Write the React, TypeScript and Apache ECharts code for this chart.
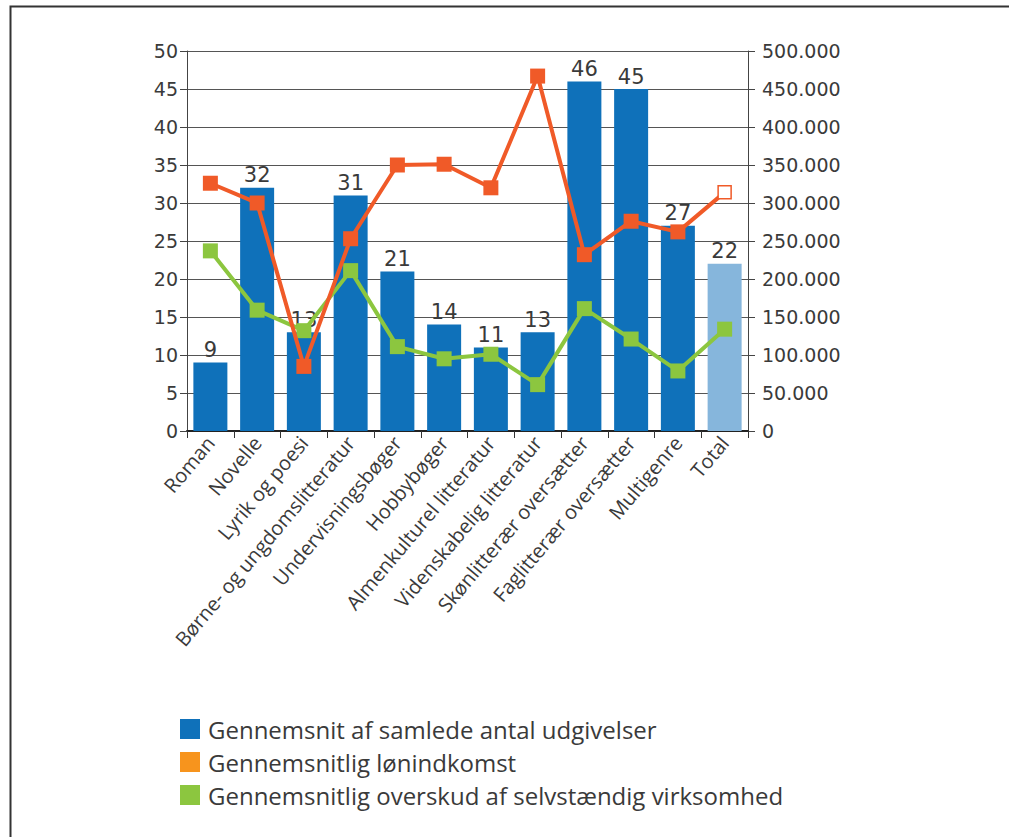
import React, { useEffect, useRef } from "react";
import * as echarts from "echarts";

const categories = [
  "Roman",
  "Novelle",
  "Lyrik og poesi",
  "Børne- og ungdomslitteratur",
  "Undervisningsbøger",
  "Hobbybøger",
  "Almenkulturel litteratur",
  "Videnskabelig litteratur",
  "Skønlitterær oversætter",
  "Faglitterær oversætter",
  "Multigenre",
  "Total",
];
const udgivelser = [9, 32, 13, 31, 21, 14, 11, 13, 46, 45, 27, 22];
const loenindkomst = [326000, 300000, 85000, 253000, 350000, 351000, 320000, 467000, 232000, 276000, 262000, 314000];
const overskud = [237000, 159000, 132000, 211000, 111000, 95000, 101000, 61000, 161000, 121000, 79000, 134000];
const leftTicks = [0, 50, 5];
const rightTicks = [0, 500000, 50000];

const seriesNames = [
  "Gennemsnit af samlede antal udgivelser",
  "Gennemsnitlig lønindkomst",
  "Gennemsnitlig overskud af selvstændig virksomhed",
];

const BLUE = "#0f71ba";
const LIGHTBLUE = "#86b6dc";
const ORANGE_LINE = "#f05a28";
const ORANGE_LEGEND = "#f7941d";
const GREEN = "#8cc63f";
const FONT = "Open Sans";
const NUMFONT = "DejaVu Sans";
const TEXT = "#3a3a3a";

function fmt(v: number) {
  return String(v).replace(/\B(?=(\d{3})+(?!\d))/g, ".");
}

export default function App() {
  const ref = useRef<HTMLDivElement>(null);
  useEffect(() => {
    const chart = echarts.init(ref.current!, null, { renderer: "svg" });
    const last = categories.length - 1;
    chart.setOption({
      animation: false,
      backgroundColor: "#fff",
      textStyle: { fontFamily: FONT },
      graphic: [
        {
          type: "rect",
          shape: { x: 10.5, y: 6.5, width: 1100, height: 1000 },
          style: { fill: "none", stroke: "#333", lineWidth: 2 },
          silent: true,
        },
      ],
      grid: { left: 187, right: 261, top: 51, bottom: 406 },
      legend: {
        orient: "vertical",
        left: 175,
        top: 712,
        icon: "rect",
        itemWidth: 20,
        itemHeight: 20,
        itemGap: 9,
        textStyle: {
          fontFamily: FONT,
          fontSize: 24,
          lineHeight: 24,
          color: TEXT,
          padding: [0, 0, 0, 3],
        },
        data: [
          { name: seriesNames[0], itemStyle: { color: BLUE } },
          { name: seriesNames[1], itemStyle: { color: ORANGE_LEGEND, borderWidth: 0 } },
          { name: seriesNames[2], itemStyle: { color: GREEN } },
        ],
      },
      xAxis: {
        type: "category",
        data: categories,
        axisLine: { lineStyle: { color: "#222", width: 2 } },
        axisTick: { show: true, length: 7, lineStyle: { color: "#333" } },
        axisLabel: {
          rotate: 50,
          interval: 0,
          fontFamily: FONT,
          fontSize: 20,
          color: TEXT,
          margin: 8,
        },
      },
      yAxis: [
        {
          type: "value",
          min: leftTicks[0],
          max: leftTicks[1],
          interval: leftTicks[2],
          axisLine: { show: true, lineStyle: { color: "#444", width: 1 } },
          axisTick: { show: true, length: 7, lineStyle: { color: "#444" } },
          splitLine: { lineStyle: { color: "#555", width: 1 } },
          axisLabel: { fontFamily: NUMFONT, fontSize: 19, color: TEXT, margin: 9 },
        },
        {
          type: "value",
          min: rightTicks[0],
          max: rightTicks[1],
          interval: rightTicks[2],
          position: "right",
          axisLine: { show: true, lineStyle: { color: "#444", width: 1 } },
          axisTick: { show: true, length: 7, lineStyle: { color: "#444" } },
          splitLine: { show: false },
          axisLabel: {
            fontFamily: NUMFONT,
            fontSize: 19,
            color: TEXT,
            margin: 14,
            formatter: (v: number) => fmt(v),
          },
        },
      ],
      series: [
        {
          name: seriesNames[0],
          type: "bar",
          yAxisIndex: 0,
          barWidth: 34,
          itemStyle: { color: BLUE },
          label: {
            show: true,
            position: "top",
            distance: 2,
            fontFamily: NUMFONT,
            fontSize: 21,
            color: TEXT,
          },
          data: udgivelser.map((v, i) =>
            i === last ? { value: v, itemStyle: { color: LIGHTBLUE } } : v
          ),
          z: 1,
        },
        {
          name: seriesNames[1],
          type: "line",
          yAxisIndex: 1,
          symbol: "rect",
          symbolSize: 15,
          lineStyle: { color: ORANGE_LINE, width: 4 },
          itemStyle: { color: ORANGE_LINE },
          data: loenindkomst.map((v, i) =>
            i === last
              ? {
                  value: v,
                  symbolSize: 13,
                  itemStyle: { color: "#fff", borderColor: ORANGE_LINE, borderWidth: 1.5 },
                }
              : v
          ),
          z: 3,
        },
        {
          name: seriesNames[2],
          type: "line",
          yAxisIndex: 1,
          symbol: "rect",
          symbolSize: 15,
          lineStyle: { color: GREEN, width: 4 },
          itemStyle: { color: GREEN },
          data: overskud,
          z: 2,
        },
      ],
    });
    return () => chart.dispose();
  }, []);
  return (
    <div
      ref={ref}
      style={{ position: "absolute", left: 0, top: 0, width: 1009, height: 837 }}
    />
  );
}
